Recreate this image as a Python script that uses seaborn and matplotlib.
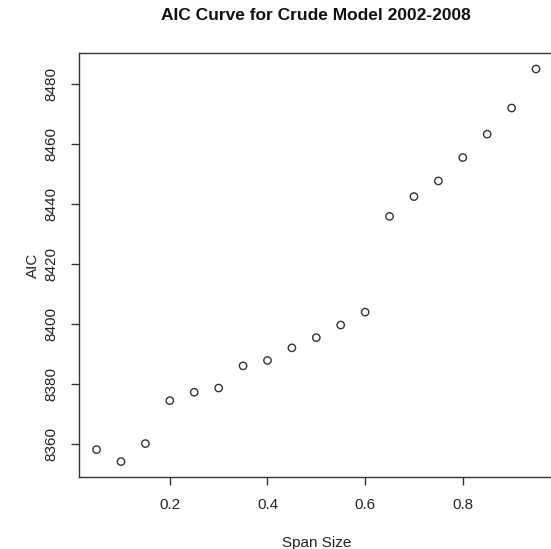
import matplotlib
matplotlib.use("Agg")
import matplotlib.pyplot as plt
import seaborn as sns
import pandas as pd

span = [0.05, 0.10, 0.15, 0.20, 0.25, 0.30, 0.35, 0.40, 0.45, 0.50,
        0.55, 0.60, 0.65, 0.70, 0.75, 0.80, 0.85, 0.90, 0.95]
aic = [8358.1, 8354.1, 8360.1, 8374.4, 8377.2, 8378.6, 8386.0, 8387.8, 8392.0, 8395.4,
       8399.6, 8403.9, 8435.8, 8442.4, 8447.6, 8455.4, 8463.2, 8471.9, 8484.9]
xticks = [0.2, 0.4, 0.6, 0.8]
yticks = [8360, 8380, 8400, 8420, 8440, 8460, 8480]

df = pd.DataFrame({"Span Size": span, "AIC": aic})

sns.set_style("white")
plt.rcParams["font.family"] = ["Liberation Sans", "DejaVu Sans"]

fig = plt.figure(figsize=(5.51, 5.49), dpi=100)
ax = fig.add_axes([79 / 551, 1 - 477.3 / 549, (553.6 - 79) / 551, (477.3 - 53.3) / 549])

sns.scatterplot(data=df, x="Span Size", y="AIC", ax=ax, marker="o",
                facecolor="none", edgecolor="#333333", linewidth=1.0, s=28)

xr = max(span) - min(span)
yr = max(aic) - min(aic)
ax.set_xlim(min(span) - 0.04 * xr, max(span) + 0.04 * xr)
ax.set_ylim(min(aic) - 0.04 * yr, max(aic) + 0.04 * yr)
ax.set_xticks(xticks)
ax.set_xticklabels([f"{v:.1f}" for v in xticks])
ax.set_yticks(yticks)
ax.set_yticklabels([str(v) for v in yticks], rotation=90, va="center")

ax.tick_params(axis="both", which="major", length=6, width=1, color="#333333",
               labelsize=11, labelcolor="#222222", direction="out", pad=9,
               bottom=True, left=True)
for sp in ax.spines.values():
    sp.set_color("#333333")
    sp.set_linewidth(1)

ax.set_xlabel("Span Size", fontsize=11, color="#222222", labelpad=17)
ax.set_ylabel("AIC", fontsize=11, color="#222222", labelpad=3)
ax.set_title("AIC Curve for Crude Model 2002-2008", fontsize=12.5, fontweight="bold",
             color="#111111", pad=24)

fig.savefig("out.png", dpi=100)
